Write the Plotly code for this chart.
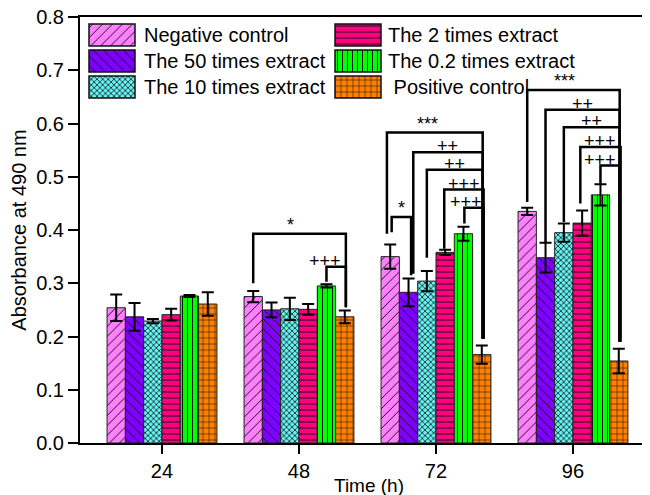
import plotly.graph_objects as go

# ---------------- data ----------------
times = ['24', '48', '72', '96']
y_ticks = [0.0, 0.1, 0.2, 0.3, 0.4, 0.5, 0.6, 0.7, 0.8]
series_names = ['Negative control', 'The 50 times extract', 'The 10 times extract',
                'The 2 times extract', 'The 0.2 times extract', 'Positive control']
neg_control = [0.254, 0.275, 0.350, 0.435]
neg_control_err = [0.025, 0.0105, 0.023, 0.0066]
extract_50 = [0.237, 0.250, 0.283, 0.348]
extract_50_err = [0.026, 0.014, 0.026, 0.028]
extract_10 = [0.229, 0.252, 0.304, 0.395]
extract_10_err = [0.004, 0.021, 0.019, 0.017]
extract_2 = [0.241, 0.251, 0.358, 0.413]
extract_2_err = [0.011, 0.010, 0.005, 0.0235]
extract_02 = [0.276, 0.295, 0.393, 0.466]
extract_02_err = [0.002, 0.003, 0.013, 0.020]
pos_control = [0.261, 0.237, 0.166, 0.154]
pos_control_err = [0.022, 0.012, 0.017, 0.023]

values = [neg_control, extract_50, extract_10, extract_2, extract_02, pos_control]
errors = [neg_control_err, extract_50_err, extract_10_err, extract_2_err, extract_02_err, pos_control_err]

# significance brackets: group, left bar, right bar, top, left bottom, right bottom, label
brackets = [
    (1, 0.0, 5.06, 0.393, 0.300, 0.255, '*'),
    (1, 4.0, 5.06, 0.331, 0.303, 0.255, '+++'),
    (2, -0.18, 5.05, 0.583, 0.393, 0.196, '***'),
    (2, 1.26, 5.05, 0.546, 0.318, 0.196, '++'),
    (2, 2.0, 5.05, 0.513, 0.348, 0.196, '++'),
    (2, 2.95, 5.1, 0.476, 0.365, 0.196, '+++'),
    (2, 4.05, 5.1, 0.442, 0.412, 0.196, '+++'),
    (2, 0.08, 1.14, 0.4245, 0.396, 0.315, '*'),
    (3, 0.0, 5.05, 0.663, 0.4525, 0.190, '***'),
    (3, 1.0, 5.05, 0.626, 0.3775, 0.190, '++'),
    (3, 2.0, 5.05, 0.593, 0.415, 0.190, '++'),
    (3, 2.9, 5.1, 0.556, 0.450, 0.190, '+++'),
    (3, 4.0, 5.05, 0.521, 0.487, 0.190, '+++'),
]
label_xshift = [-9, -11, -7, 0, 0, 0, -8, 0, -9, 0, 0, 0, -10]

# ---------------- style ----------------
FONT = 'Liberation Sans, Arial, sans-serif'
colors = ['#FF80FF', '#7F00FF', '#66F2F2', '#FF0080', '#00FF00', '#FF8000']
shapes_ = ['/', '\\', 'x', '-', '|', '+']
psizes = [7, 7, 4, 6, 5, 6]
solids = [0.14, 0.14, 0.35, 0.17, 0.2, 0.17]
BARGAP = 0.198
BW = (1 - BARGAP) / len(series_names)

W, H = 650, 495
PAGE_OFF = 8                      # default body margin of the html page
ML, MR, MT, MB = 72, 0, 9, 60
PX_PER_CAT = 137.0
X_LEFT = -0.5985
X_RIGHT = X_LEFT + (W - ML - MR) / PX_PER_CAT

x_idx = list(range(len(times)))

fig = go.Figure()
for i, name in enumerate(series_names):
    fig.add_trace(go.Bar(
        x=x_idx, y=values[i], name=name, showlegend=False,
        marker=dict(color=colors[i], line=dict(color='#222', width=1),
                    pattern=dict(shape=shapes_[i], fgcolor='#111', bgcolor=colors[i],
                                 size=psizes[i], solidity=solids[i], fillmode='replace')),
        error_y=dict(type='data', array=errors[i], color='black', thickness=2, width=6),
    ))

# ---- brackets ----
def bar_pos(g, b):
    return g + (b - (len(series_names) - 1) / 2) * BW

shape_list = []
annos = []
for k, (g, bl, br, top, lb, rb, lab) in enumerate(brackets):
    xl, xr = bar_pos(g, bl), bar_pos(g, br)
    shape_list.append(dict(type='path', xref='x', yref='y',
                           path=f'M{xl},{lb} L{xl},{top} L{xr},{top} L{xr},{rb}',
                           line=dict(color='black', width=2.5)))
    is_star = '*' in lab
    annos.append(dict(x=(xl + xr) / 2, y=top, xref='x', yref='y', text=lab,
                      showarrow=False, xanchor='center', yanchor='bottom',
                      xshift=label_xshift[k], yshift=-3 if is_star else -6,
                      font=dict(family=FONT, size=18, color='black')))

# ---- legend (two columns, large swatches); coordinates in screen pixels ----
LEG_X = [89, 335]
LEG_TXT_X = [142, 386]
LEG_ROW_TOP = [24, 50, 76]
SW_W, SW_H = 46, 22
for i, name in enumerate(series_names):
    col, row = i // 3, i % 3
    fig.add_trace(go.Bar(
        x=[LEG_X[col]], y=[SW_H], base=[LEG_ROW_TOP[row]], width=[SW_W], offset=0,
        xaxis='x2', yaxis='y2', showlegend=False, hoverinfo='skip',
        marker=dict(color=colors[i], line=dict(color='#111', width=1.5),
                    pattern=dict(shape=shapes_[i], fgcolor='#111', bgcolor=colors[i],
                                 size=psizes[i], solidity=solids[i], fillmode='replace')),
    ))
    txt = (' ' + name) if name == 'Positive control' else name
    annos.append(dict(x=LEG_TXT_X[col], y=LEG_ROW_TOP[row] + SW_H / 2, xref='x2', yref='y2',
                      text=txt, showarrow=False, xanchor='left', yanchor='middle',
                      font=dict(family=FONT, size=20, color='black')))

# x axis title placed as annotation so it stays inside the window
annos.append(dict(x=0.5, y=0, xref='paper', yref='paper', text='Time (h)',
                  showarrow=False, xanchor='center', yanchor='middle', yshift=-42,
                  font=dict(family=FONT, size=19, color='black')))

fig.update_layout(
    width=W, height=H,
    margin=dict(l=ML, r=MR, t=MT, b=MB, autoexpand=False),
    paper_bgcolor='white', plot_bgcolor='white',
    barmode='group', bargap=BARGAP, bargroupgap=0,
    font=dict(family=FONT, size=20, color='black'),
    shapes=shape_list, annotations=annos,
    xaxis=dict(range=[X_LEFT, X_RIGHT], tickvals=x_idx, ticktext=times,
               showline=True, linecolor='black', linewidth=2, mirror=True,
               ticks='outside', ticklen=9, tickwidth=2, tickcolor='black',
               showgrid=False, zeroline=False),
    yaxis=dict(range=[0, 0.8], tickvals=y_ticks, ticktext=[f'{v:.1f}' for v in y_ticks],
               ticklabeloverflow='allow',
               showline=True, linecolor='black', linewidth=2,
               ticks='outside', ticklen=10, tickwidth=2, tickcolor='black',
               showgrid=False, zeroline=False,
               title=dict(text='Absorbance at 490 nm', font=dict(size=20), standoff=6)),
    xaxis2=dict(overlaying='x', range=[ML + PAGE_OFF, W - MR + PAGE_OFF], visible=False),
    yaxis2=dict(overlaying='y', range=[H - MB + PAGE_OFF, MT + PAGE_OFF], visible=False),
)

fig.write_html('out.html')
